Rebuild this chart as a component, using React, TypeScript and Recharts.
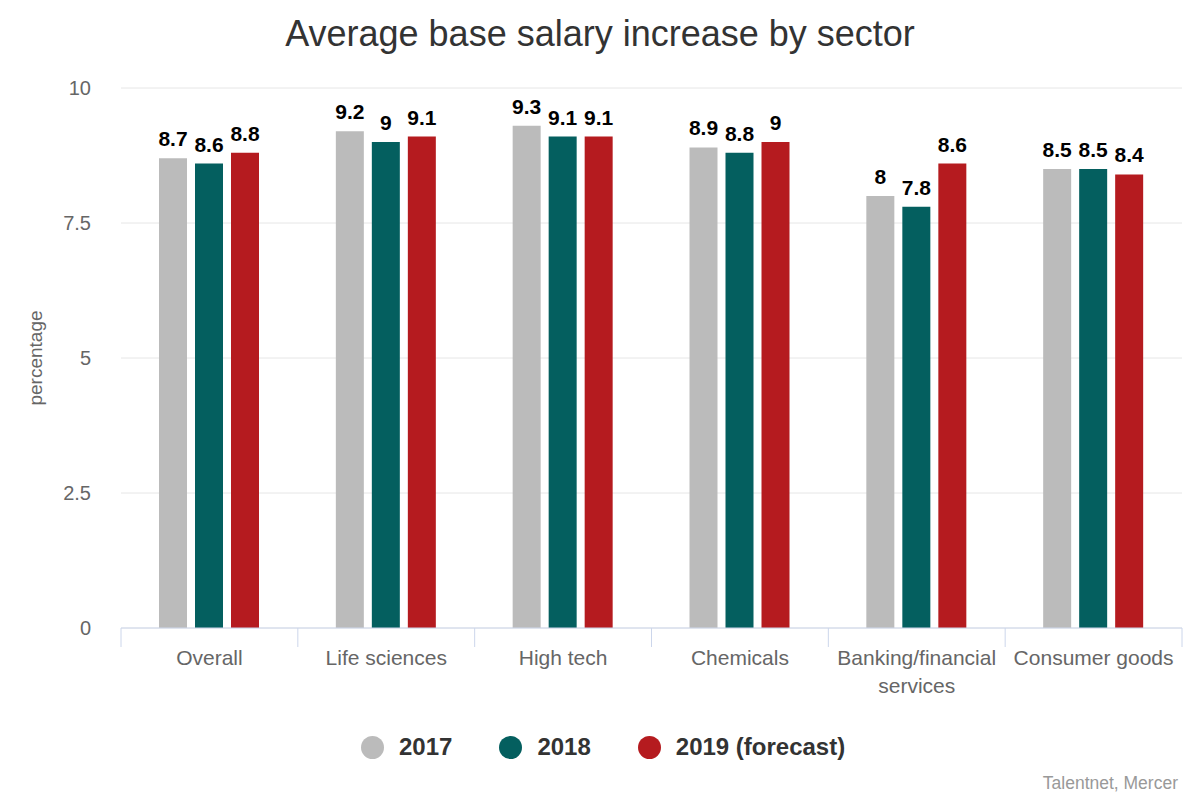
import React from "react";
import {
  BarChart,
  Bar,
  XAxis,
  YAxis,
  CartesianGrid,
  LabelList,
  Text
} from "recharts";

const sectors = [
  "Overall",
  "Life sciences",
  "High tech",
  "Chemicals",
  "Banking/financial services",
  "Consumer goods"
];
const y2017 = [8.7, 9.2, 9.3, 8.9, 8, 8.5];
const y2018 = [8.6, 9, 9.1, 8.8, 7.8, 8.5];
const y2019 = [8.8, 9.1, 9.1, 9, 8.6, 8.4];
const yTicks = [0, 2.5, 5, 7.5, 10];

const seriesNames = ["2017", "2018", "2019 (forecast)"];
const seriesKeys = ["s2017", "s2018", "s2019"];
const seriesColors = ["#bbbbbb", "#045f5f", "#b51b1f"];

const data = sectors.map((name, i) => ({
  name,
  s2017: y2017[i],
  s2018: y2018[i],
  s2019: y2019[i]
}));

const FONT = '"Liberation Sans", Arial, sans-serif';
const TICK_LEN = 19;
const LABEL_GAP = 22;

// category label plus the boundary tick marks (left edge of each band, and right edge of the last)
function SectorTick(props: any) {
  const { x, y, payload, index, visibleTicksCount } = props;
  const half = payload.offset || 0;
  const axisY = y - LABEL_GAP;
  const edges = [x - half];
  if (index === visibleTicksCount - 1) edges.push(x + half);
  return (
    <g>
      {edges.map((ex, i) => (
        <line
          key={i}
          x1={ex}
          x2={ex}
          y1={axisY}
          y2={axisY + TICK_LEN}
          stroke="#ccd6eb"
        />
      ))}
      <Text
        x={x}
        y={y}
        width={172}
        textAnchor="middle"
        verticalAnchor="start"
        lineHeight={28}
        fill="#666666"
        fontSize={21}
        fontFamily={FONT}
        style={{ fontSize: 21, fontFamily: FONT }}
      >
        {payload.value}
      </Text>
    </g>
  );
}

export default function App() {
  return (
    <div
      style={{
        position: "absolute",
        left: 0,
        top: 0,
        width: 1200,
        height: 800,
        background: "#fff",
        fontFamily: FONT
      }}
    >
      <div
        style={{
          position: "absolute",
          left: 0,
          width: 1200,
          top: 13,
          textAlign: "center",
          fontSize: 36,
          color: "#333333"
        }}
      >
        Average base salary increase by sector
      </div>
      <div
        style={{
          position: "absolute",
          left: 36,
          top: 358,
          transform: "translate(-50%, -50%) rotate(-90deg)",
          fontSize: 19,
          color: "#666666",
          whiteSpace: "nowrap"
        }}
      >
        percentage
      </div>
      <BarChart
        width={1200}
        height={800}
        data={data}
        margin={{ top: 88, right: 18, bottom: 171, left: 0 }}
        barGap={8}
      >
        <CartesianGrid vertical={false} stroke="#e6e6e6" />
        <XAxis
          dataKey="name"
          height={1}
          interval={0}
          axisLine={{ stroke: "#ccd6eb" }}
          tickLine={false}
          tickSize={0}
          tickMargin={LABEL_GAP}
          tick={<SectorTick />}
        />
        <YAxis
          width={121}
          domain={[0, 10]}
          ticks={yTicks}
          axisLine={false}
          tickLine={false}
          tickSize={0}
          tickMargin={30}
          tick={{ fill: "#666666", fontSize: 20, fontFamily: FONT }}
        />
        {seriesKeys.map((k, i) => (
          <Bar
            key={k}
            dataKey={k}
            name={seriesNames[i]}
            fill={seriesColors[i]}
            barSize={28}
            isAnimationActive={false}
          >
            <LabelList
              dataKey={k}
              position="top"
              offset={12}
              fill="#000"
              fontSize={21}
              fontWeight="bold"
              fontFamily={FONT}
            />
          </Bar>
        ))}
      </BarChart>
      <div
        style={{
          position: "absolute",
          left: 361,
          top: 733,
          display: "flex",
          alignItems: "center",
          gap: 47
        }}
      >
        {seriesNames.map((n, i) => (
          <div
            key={n}
            style={{ display: "flex", alignItems: "center", gap: 15 }}
          >
            <span
              style={{
                width: 23,
                height: 23,
                borderRadius: "50%",
                background: seriesColors[i],
                display: "inline-block"
              }}
            />
            <span
              style={{ fontSize: 24, fontWeight: "bold", color: "#333333" }}
            >
              {n}
            </span>
          </div>
        ))}
      </div>
      <div
        style={{
          position: "absolute",
          right: 22,
          top: 773,
          fontSize: 17.5,
          color: "#999999"
        }}
      >
        Talentnet, Mercer
      </div>
    </div>
  );
}
